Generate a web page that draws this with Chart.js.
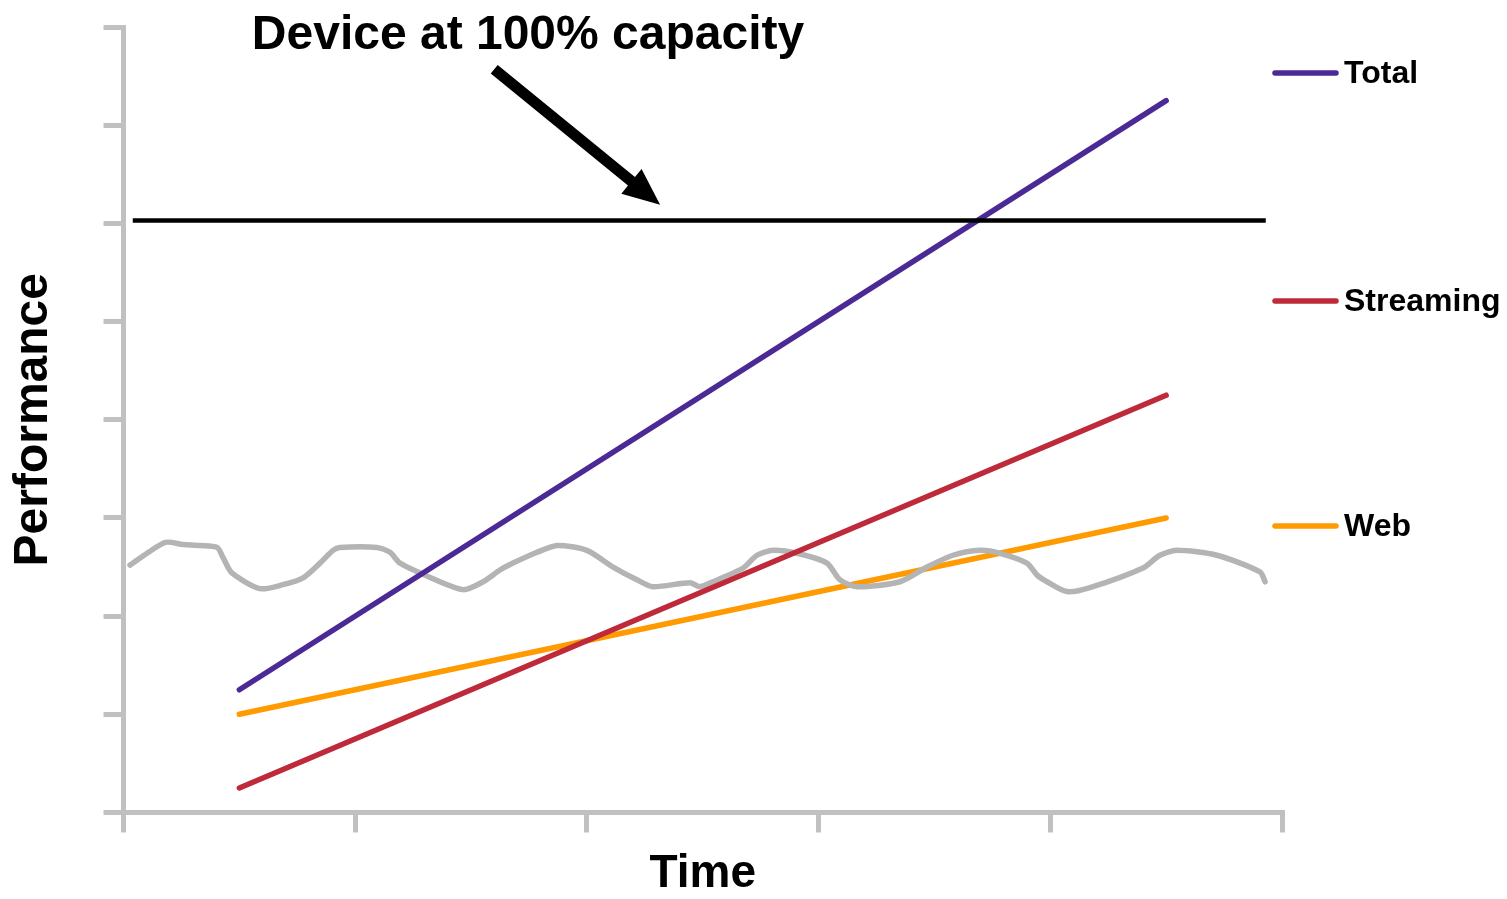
<!DOCTYPE html>
<html>
<head>
<meta charset="utf-8">
<script src="https://cdn.jsdelivr.net/npm/chart.js@4.4.1/dist/chart.umd.min.js"></script>
<style>
  html, body { margin: 0; padding: 0; background: #fff; }
  #wrap { width: 1507px; height: 899px; }
</style>
</head>
<body>
<div id="wrap"><canvas id="perfChart"></canvas></div>
<script>
// series
const seriesNames = ['Total', 'Streaming', 'Web'];
const seriesColors = ['#4b2a96', '#be2a3a', '#ff9a00'];
const trendX = [0.5, 4.5];
const totalY = [1.25, 7.25];
const streamingY = [0.25, 4.25];
const webY = [1, 3];

// 100% capacity line
const capacityX = [0.04, 4.93];
const capacityY = [6.03, 6.03];

// measured (noisy) performance
const measuredX = [0.028, 0.179, 0.257, 0.330, 0.404, 0.429, 0.468, 0.589, 0.688, 0.775,
  0.848, 0.904, 0.934, 1.094, 1.150, 1.193, 1.280, 1.465, 1.552, 1.625,
  1.681, 1.785, 1.871, 2.000, 2.113, 2.216, 2.285, 2.445, 2.488, 2.544,
  2.674, 2.734, 2.803, 2.906, 3.036, 3.092, 3.166, 3.351, 3.468, 3.580,
  3.697, 3.783, 3.899, 3.942, 3.986, 4.072, 4.171, 4.400, 4.473, 4.546,
  4.719, 4.905, 4.927];
const measuredY = [2.52, 2.75, 2.73, 2.72, 2.70, 2.60, 2.44, 2.28, 2.32, 2.39,
  2.54, 2.67, 2.70, 2.70, 2.65, 2.54, 2.44, 2.27, 2.35, 2.47,
  2.54, 2.65, 2.72, 2.67, 2.50, 2.37, 2.30, 2.34, 2.30, 2.35,
  2.49, 2.62, 2.67, 2.64, 2.54, 2.37, 2.30, 2.35, 2.50, 2.62,
  2.67, 2.64, 2.54, 2.42, 2.35, 2.25, 2.29, 2.49, 2.62, 2.67,
  2.62, 2.45, 2.35];

// arrow from / to, in data units
const arrowFrom = [1.60, 7.57];
const arrowTo = [2.316, 6.19];

const xTicks = [0, 1, 2, 3, 4, 5];
const yTicks = [0, 1, 2, 3, 4, 5, 6, 7, 8];

const FONT = '"Liberation Sans", Arial, Helvetica, sans-serif';
const axisGray = '#c0c0c0';

function pts(xs, ys) {
  return xs.map((v, i) => ({x: v, y: ys[i]}));
}

const overlay = {
  id: 'overlay',
  afterDatasetsDraw(chart) {
    const {ctx, scales: {x, y}} = chart;
    ctx.save();

    // headline
    ctx.fillStyle = '#000';
    ctx.font = 'bold 48px ' + FONT;
    ctx.textAlign = 'center';
    ctx.textBaseline = 'alphabetic';
    ctx.fillText('Device at 100% capacity', 528, 49);

    // arrow
    const sx = x.getPixelForValue(arrowFrom[0]), sy = y.getPixelForValue(arrowFrom[1]);
    const tx = x.getPixelForValue(arrowTo[0]), ty = y.getPixelForValue(arrowTo[1]);
    const len = Math.hypot(tx - sx, ty - sy);
    const ux = (tx - sx) / len, uy = (ty - sy) / len;
    const nx = -uy, ny = ux;
    const headLen = 37, headHalf = 16, shaftHalf = 5.5;
    const bx = tx - ux * headLen, by = ty - uy * headLen;
    ctx.beginPath();
    ctx.moveTo(sx + nx * shaftHalf, sy + ny * shaftHalf);
    ctx.lineTo(bx + nx * shaftHalf, by + ny * shaftHalf);
    ctx.lineTo(bx + nx * headHalf, by + ny * headHalf);
    ctx.lineTo(tx, ty);
    ctx.lineTo(bx - nx * headHalf, by - ny * headHalf);
    ctx.lineTo(bx - nx * shaftHalf, by - ny * shaftHalf);
    ctx.lineTo(sx - nx * shaftHalf, sy - ny * shaftHalf);
    ctx.closePath();
    ctx.fill();

    // side legend
    const legendY = [73, 301, 526];
    ctx.font = 'bold 32px ' + FONT;
    ctx.textAlign = 'left';
    ctx.textBaseline = 'middle';
    ctx.lineCap = 'round';
    ctx.lineWidth = 5.5;
    seriesNames.forEach((name, i) => {
      ctx.strokeStyle = seriesColors[i];
      ctx.beginPath();
      ctx.moveTo(1275, legendY[i]);
      ctx.lineTo(1336, legendY[i]);
      ctx.stroke();
      ctx.fillStyle = '#000';
      ctx.fillText(name, 1344, legendY[i] + 1);
    });
    ctx.restore();
  }
};

const ctx = document.getElementById('perfChart').getContext('2d');
const perfChart = new Chart(ctx, {
  type: 'line',
  data: {
    datasets: [
      {
        label: seriesNames[0],
        data: pts(trendX, totalY),
        borderColor: seriesColors[0],
        borderWidth: 5.5,
        order: 1
      },
      {
        label: seriesNames[1],
        data: pts(trendX, streamingY),
        borderColor: seriesColors[1],
        borderWidth: 5.5,
        order: 2
      },
      {
        label: 'Measured',
        data: pts(measuredX, measuredY),
        borderColor: '#b4b4b4',
        borderWidth: 5.5,
        tension: 0.25,
        order: 3
      },
      {
        label: seriesNames[2],
        data: pts(trendX, webY),
        borderColor: seriesColors[2],
        borderWidth: 5.5,
        order: 4
      },
      {
        label: 'Capacity',
        data: pts(capacityX, capacityY),
        borderColor: '#000',
        borderWidth: 4.5,
        borderCapStyle: 'butt',
        order: 0
      }
    ]
  },
  options: {
    responsive: true,
    maintainAspectRatio: false,
    animation: false,
    layout: {
      padding: {left: 0, right: 225, top: 27, bottom: 2}
    },
    elements: {
      point: {radius: 0, hoverRadius: 0},
      line: {borderCapStyle: 'round', borderJoinStyle: 'round', fill: false}
    },
    plugins: {
      legend: {display: false},
      tooltip: {enabled: false}
    },
    scales: {
      x: {
        type: 'linear',
        min: 0,
        max: 5,
        afterBuildTicks: (scale) => { scale.ticks = xTicks.map(v => ({value: v})); },
        ticks: {display: false},
        grid: {
          drawOnChartArea: false,
          drawTicks: true,
          tickLength: 20,
          color: axisGray,
          lineWidth: 5
        },
        border: {display: true, color: axisGray, width: 5},
        title: {
          display: true,
          text: 'Time',
          color: '#000',
          font: {family: FONT, size: 46, weight: 'bold', lineHeight: 1},
          padding: {top: 18.5, bottom: 0}
        }
      },
      y: {
        type: 'linear',
        min: 0,
        max: 8,
        afterBuildTicks: (scale) => { scale.ticks = yTicks.map(v => ({value: v})); },
        ticks: {display: false},
        grid: {
          drawOnChartArea: false,
          drawTicks: true,
          tickLength: 20,
          color: axisGray,
          lineWidth: 5
        },
        border: {display: true, color: axisGray, width: 5},
        title: {
          display: true,
          text: 'Performance',
          color: '#000',
          font: {family: FONT, size: 48, weight: 'bold', lineHeight: 1},
          padding: {top: 10, bottom: 45.5}
        }
      }
    }
  },
  plugins: [overlay]
});
</script>
</body>
</html>
